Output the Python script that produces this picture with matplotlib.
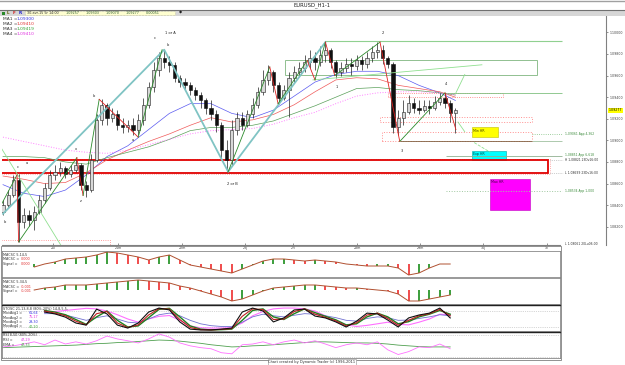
#!/usr/bin/env python3
# EURUSD H1 chart: candles, wave count, targets and four indicator panels

import numpy as np
import matplotlib
matplotlib.use("Agg")
import matplotlib.pyplot as plt
from matplotlib.patches import Rectangle
from matplotlib.ticker import FuncFormatter

# ---- candles (2h bars) ----
first_open = 1.0834
close = [1.0840, 1.0849, 1.0863, 1.0824, 1.0831, 1.0826, 1.0834, 1.0845, 1.0856, 1.0868,
         1.0871, 1.0874, 1.0869, 1.0873, 1.0877, 1.0859, 1.0854, 1.0882, 1.0919, 1.0933,
         1.0921, 1.0924, 1.0914, 1.0912, 1.0914, 1.0910, 1.0919, 1.0933, 1.0949, 1.0965,
         1.0976, 1.0973, 1.0970, 1.0958, 1.0954, 1.0951, 1.0947, 1.0942, 1.0937, 1.0930,
         1.0924, 1.0914, 1.0891, 1.0882, 1.0910, 1.0921, 1.0914, 1.0924, 1.0933, 1.0945,
         1.0956, 1.0963, 1.0951, 1.0939, 1.0947, 1.0958, 1.0963, 1.0967, 1.0973, 1.0976,
         1.0973, 1.0979, 1.0984, 1.0973, 1.0963, 1.0967, 1.0971, 1.0969, 1.0974, 1.0971,
         1.0976, 1.0982, 1.0984, 1.0976, 1.0971, 1.0912, 1.0921, 1.0926, 1.0935, 1.0930,
         1.0928, 1.0932, 1.0930, 1.0936, 1.0939, 1.0935, 1.09257, 1.09277]
high = [1.0845, 1.0854, 1.0868, 1.0869, 1.0837, 1.0836, 1.0839, 1.0849, 1.0861, 1.0873,
        1.0877, 1.0880, 1.0876, 1.0877, 1.0882, 1.0879, 1.0862, 1.0887, 1.0924, 1.0938,
        1.0935, 1.0930, 1.0928, 1.0921, 1.0919, 1.0921, 1.0924, 1.0939, 1.0954, 1.0973,
        1.0982, 1.0984, 1.0978, 1.0973, 1.0961, 1.0958, 1.0954, 1.0949, 1.0945, 1.0939,
        1.0937, 1.0928, 1.0917, 1.0900, 1.0919, 1.0926, 1.0926, 1.0928, 1.0939, 1.0949,
        1.0965, 1.0970, 1.0965, 1.0954, 1.0951, 1.0963, 1.0969, 1.0973, 1.0979, 1.0984,
        1.0982, 1.0987, 1.0991, 1.0986, 1.0974, 1.0973, 1.0976, 1.0976, 1.0979, 1.0978,
        1.0982, 1.0987, 1.0991, 1.0988, 1.0978, 1.0973, 1.0928, 1.0937, 1.0942, 1.0939,
        1.0937, 1.0937, 1.0937, 1.0941, 1.0944, 1.0944, 1.0937, 1.09303]
low = [1.0831, 1.0837, 1.0848, 1.0806, 1.0819, 1.0821, 1.0817, 1.0832, 1.0842, 1.0854,
       1.0863, 1.0867, 1.0865, 1.0866, 1.0871, 1.0854, 1.0848, 1.0852, 1.0880, 1.0914,
       1.0914, 1.0917, 1.0910, 1.0907, 1.0908, 1.0905, 1.0905, 1.0914, 1.0930, 1.0945,
       1.0960, 1.0967, 1.0963, 1.0954, 1.0949, 1.0947, 1.0942, 1.0937, 1.0930, 1.0924,
       1.0919, 1.0908, 1.0882, 1.0871, 1.0877, 1.0905, 1.0910, 1.0912, 1.0921, 1.0930,
       1.0942, 1.0951, 1.0945, 1.0934, 1.0937, 1.0922, 1.0954, 1.0960, 1.0963, 1.0967,
       1.0965, 1.0969, 1.0973, 1.0967, 1.0958, 1.0960, 1.0963, 1.0961, 1.0965, 1.0965,
       1.0967, 1.0973, 1.0976, 1.0971, 1.0967, 1.0907, 1.0905, 1.0914, 1.0924, 1.0925,
       1.0924, 1.0926, 1.0924, 1.0928, 1.0933, 1.0930, 1.0917, 1.09070]

# moving averages, one value every 4 bars
ma_bars = list(range(0, 88, 4)) + [87]
ma1 = [1.0859, 1.0851, 1.0848, 1.0854, 1.0868, 1.0885, 1.0895, 1.0910, 1.0925, 1.0934, 1.0934, 1.0925,
       1.0921, 1.0928, 1.0941, 1.0954, 1.0961, 1.0964, 1.0964, 1.0960, 1.0951, 1.0944, 1.0937]
ma2 = [1.0867, 1.0864, 1.0860, 1.0861, 1.0870, 1.0882, 1.0891, 1.0899, 1.0906, 1.0914, 1.0921, 1.0917,
       1.0919, 1.0924, 1.0933, 1.0945, 1.0956, 1.0958, 1.0957, 1.0951, 1.0948, 1.0945, 1.0940]
ma3 = [1.0885, 1.0885, 1.0884, 1.0880, 1.0878, 1.0884, 1.0889, 1.0894, 1.0901, 1.0909, 1.0912, 1.0912,
       1.0914, 1.0918, 1.0925, 1.0932, 1.0940, 1.0948, 1.0949, 1.0947, 1.0946, 1.0944, 1.0942]
ma4 = [1.0903, 1.0899, 1.0895, 1.0891, 1.0889, 1.0888, 1.0891, 1.0896, 1.0901, 1.0906, 1.0909, 1.0910,
       1.0911, 1.0915, 1.0921, 1.0926, 1.0934, 1.0941, 1.0944, 1.0945, 1.0945, 1.0944, 1.0942]

# indicators, one value every 2 bars (pips for the oscillators)
macd1 = [-4, -4, -3, -3, 0, 2, 5, 6, 7, 9, 12, 11, 9, 7, 4, 7, 9, 4, -1, -3, -5, -7, -9, -5, -1, 3,
         5, 5, 4, 3, 4, 3, 2, 0, -1, -2, -2, -2, -4, -11, -9, -4, 0, 0]
macd2 = [-5, -6, -3, 0, 2, 3, 5, 5, 5, 6, 7, 8, 9, 10, 9, 8, 7, 4, 2, -1, -4, -7, -11, -9, -5, -1,
         2, 3, 4, 5, 5, 4, 3, 2, 2, 1, 0, -1, -4, -11, -11, -9, -7, -5]
# stochastics start at bar 8
stoch_black = [76, 69, 57, 35, 27, 87, 69, 27, 16, 35, 76, 91, 84, 39, 12, 9, 9, 12, 16, 76,
               91, 80, 39, 54, 84, 87, 61, 54, 39, 20, 42, 72, 69, 46, 20, 54, 65, 72, 91, 54]
stoch_red = [80, 72, 62, 42, 28, 70, 78, 35, 18, 28, 65, 89, 87, 48, 18, 10, 9, 11, 14, 60,
             88, 85, 48, 50, 78, 88, 68, 56, 43, 24, 36, 65, 72, 52, 26, 45, 62, 70, 86, 62]
stoch_green = [82, 76, 66, 48, 30, 58, 80, 45, 20, 24, 55, 86, 90, 58, 24, 12, 9, 10, 12, 45,
               82, 88, 58, 48, 70, 88, 74, 60, 47, 28, 32, 58, 72, 58, 32, 40, 58, 68, 82, 68]
stoch_blue = [70, 70, 65, 55, 45, 55, 62, 50, 38, 35, 50, 66, 72, 62, 45, 32, 25, 22, 22, 38,
              58, 68, 62, 58, 64, 70, 68, 62, 55, 45, 42, 52, 58, 55, 45, 46, 52, 58, 66, 62]
stoch_pink = [76, 78, 82, 86, 90, 88, 80, 66, 50, 38, 50, 60, 63, 45, 24, 17, 16, 16, 18, 35,
              62, 78, 88, 91, 91, 88, 80, 62, 42, 28, 22, 26, 32, 38, 30, 28, 38, 50, 68, 66]
rsi = [47, 50, 55, 61, 53, 66, 55, 61, 55, 64, 77, 69, 64, 58, 69, 83, 74, 58, 50, 45, 42, 31,
       28, 53, 55, 61, 53, 61, 66, 58, 64, 55, 45, 53, 58, 53, 61, 39, 26, 34, 47, 45, 55, 42]
rsi_ema = [45, 46, 47, 48, 49, 50, 51, 52, 54, 56, 57, 59, 60, 62, 64, 66, 65, 63, 60, 57, 53, 50,
           47, 48, 50, 51, 53, 55, 57, 59, 61, 61, 60, 59, 58, 58, 57, 55, 52, 50, 48, 47, 47, 47]

# wave count pivots (bar, price)
abc_bars = [0, 31, 43.3, 62]
abc_prices = [1.0832, 1.0984, 1.0871, 1.0991]
sub1_bars = [-0.6, 2.7, 3, 14.2, 15.4, 18.5, 26, 30.6]
sub1_prices = [1.0838, 1.0868, 1.0806, 1.0884, 1.0849, 1.0938, 1.0903, 1.0984]
sub2_bars = [43.3, 51.3, 52.9, 58.5, 60, 62, 63.8, 72.5, 76.3, 85, 87.1]
sub2_prices = [1.0871, 1.0968, 1.0934, 1.0974, 1.0956, 1.0991, 1.0960, 1.0991, 1.0899, 1.0944, 1.0910]

support_zone = (1.08699, 1.08821)
target_prices = [1.09061, 1.08851, 1.08534]
target_labels = ["1,09061 App 4,362", "1,08851 App 6,618", "1,08534 App 1,000"]
price_ticks = [1.082, 1.084, 1.086, 1.088, 1.090, 1.092, 1.094, 1.096, 1.098, 1.100]
day_labels = ["20l", "21m", "22m", "23j", "27l", "28m", "29m", "30j", "1v"]
day_px = [53, 118, 182, 245, 293, 357, 420, 483, 547]

W, H = 625, 365


def bx(px):
    # pixel column -> bar index
    return (px - 3) / 5.2


def rect(x0, y0, x1, y1):
    return [x0 / W, 1 - y1 / H, (x1 - x0) / W, (y1 - y0) / H]


def comma(v, _=None):
    return f"{v:.5f}".replace(".", ",")


fig = plt.figure(figsize=(W / 100, H / 100), dpi=100)
fig.patch.set_facecolor("white")

# ---- main price chart ----
ax = fig.add_axes(rect(2, 16, 606, 245))
ax.set_xlim(bx(2), bx(606))
ax.set_ylim(1.080313, 1.101518)
for s in ["top", "left"]:
    ax.spines[s].set_visible(False)
ax.spines["right"].set_color("#808080")
ax.spines["bottom"].set_color("#808080")
ax.spines["bottom"].set_bounds(bx(2), bx(560))
ax.yaxis.tick_right()
ax.set_yticks(price_ticks)
ax.yaxis.set_major_formatter(FuncFormatter(comma))
ax.tick_params(axis="y", labelsize=2.3, length=1.5, width=0.4, pad=0.8, colors="#404040")
ax.set_xticks([bx(p) for p in day_px])
ax.set_xticklabels(day_labels)
ax.tick_params(axis="x", direction="in", labelsize=2.3, length=1.5, width=0.4, pad=0.6, colors="#404040")

# zones and boxes
lo, hi = support_zone
ax.add_patch(Rectangle((bx(-1), lo - 0.0001), bx(550) - bx(-1), hi - lo + 0.0002,
                       fill=False, ec="#ff9090", lw=0.6, ls=":", zorder=2))
ax.add_patch(Rectangle((bx(-1), lo), bx(548) - bx(-1), hi - lo, fill=False, ec="#e00000", lw=1.3, zorder=2))
ax.hlines([lo, hi], bx(550), bx(563), colors="#a0a0a0", lw=0.5, ls=":")
ax.plot([bx(-1), bx(110), bx(110)], [1.0808, 1.0808, 1.0800], color="#ff8080", lw=0.6, ls=":")
ax.add_patch(Rectangle((bx(285), 1.0961), bx(537) - bx(285), 0.0013, fill=False, ec="#90c090", lw=0.7))
ax.hlines(1.0992, bx(325), bx(562), colors="#90d090", lw=0.8)
ax.hlines(1.0944, bx(445), bx(562), colors="#80c080", lw=0.6)
ax.add_patch(Rectangle((bx(388), 1.0940), bx(503) - bx(388), 0.0004, fill=False, ec="#ff7070", lw=0.6, ls=":"))
ax.add_patch(Rectangle((bx(380), 1.0917), bx(532) - bx(380), 0.0005, fill=False, ec="#ff9090", lw=0.7, ls=":"))
ax.add_patch(Rectangle((bx(382), 1.0899), bx(532) - bx(382), 0.0009, fill=False, ec="#ff9090", lw=0.7, ls=":"))
ax.hlines(1.0899, bx(400), bx(532), colors="#806040", lw=0.6)
ax.hlines(1.0899, bx(532), bx(562), colors="#a0c0a0", lw=0.6)
ax.hlines(target_prices[0], bx(532), bx(562), colors="#80c080", lw=0.6, ls=":")
ax.hlines(target_prices[1], bx(446), bx(562), colors="#90b090", lw=0.6)
ax.hlines(target_prices[2], bx(446), bx(562), colors="#a0c8a0", lw=0.7, ls=":", zorder=6)
ax.add_patch(Rectangle((bx(472), 1.0903), bx(498) - bx(472), 0.0009, fc="#ffff00", ec="#c0c000", lw=0.4))
ax.add_patch(Rectangle((bx(472), 1.0882), bx(506) - bx(472), 0.0008, fc="#00ffff", ec="#00a0a0", lw=0.4))
ax.add_patch(Rectangle((bx(490), 1.0836), bx(530) - bx(490), 0.0028, fc="#ff00ff", ec="#c000c0", lw=0.4))
ax.text(bx(473), 1.0911, "Min HR", fontsize=2.3, va="top", color="#404000")
ax.text(bx(473), 1.0889, "Exp HR", fontsize=2.3, va="top", color="#004040")
ax.text(bx(491), 1.0863, "Max HR", fontsize=2.3, va="top", color="#400040")

# moving averages
ax.plot(ma_bars, ma1, color="#5a5af0", lw=0.5, zorder=3)
ax.plot(ma_bars, ma2, color="#f05a5a", lw=0.5, zorder=3)
ax.plot(ma_bars, ma3, color="#5aa05a", lw=0.5, zorder=3)
ax.plot(ma_bars, ma4, color="#ff80ff", lw=0.7, ls=":", zorder=3)

# candles
c = np.array(close)
o = np.array([first_open] + close[:-1])
h = np.maximum(np.array(high), np.maximum(o, c))
l = np.minimum(np.array(low), np.minimum(o, c))
bars = np.arange(len(c))
up = c >= o
ax.vlines(bars, l, h, color="#202020", lw=0.5, zorder=4)
ax.bar(bars[up], (c - o)[up], bottom=o[up], width=0.6, color="#d8d8d8", edgecolor="#202020", lw=0.4, zorder=5)
ax.bar(bars[~up], (c - o)[~up], bottom=o[~up], width=0.6, color="#101010", edgecolor="#101010", lw=0.4, zorder=5)

# wave lines
ax.plot(abc_bars, abc_prices, color="#80c4c4", lw=1.3, zorder=6)
for wb, wp in [(sub1_bars, sub1_prices), (sub2_bars, sub2_prices)]:
    for i in range(len(wb) - 1):
        col = "#2a8a2a" if wp[i + 1] > wp[i] else "#e02020"
        ax.plot(wb[i:i + 2], wp[i:i + 2], color=col, lw=0.6, zorder=7)
ax.plot([-0.6, 11.5], [1.0895, 1.0800], color="#90e090", lw=0.6, zorder=6)
ax.plot([59.6, 92.1], [1.0956, 1.0970], color="#90e090", lw=0.6, zorder=6)
ax.plot([87.1, 88.8], [1.0944, 1.0961], color="#90e090", lw=0.6, zorder=7)
ax.plot([87.5, 88.8], [1.0917, 1.0908], color="#90e090", lw=0.6, zorder=7)
ax.plot([90.6, 93.7], [1.0898, 1.0889], color="#90e090", lw=0.6, ls="--", zorder=7)

# right-hand labels
tr = ax.get_yaxis_transform()
xl = (565 - 2) / 604
offs = [0, 0.00012, 0]
for p, t, d in zip(target_prices, target_labels, offs):
    ax.text(xl, p + d, t, transform=tr, fontsize=2.2, color="#3a8a3a", va="center", clip_on=False)
ax.text(xl, hi - 0.00004, "H 1,08821 23Dv16:00", transform=tr, fontsize=2.2, color="#303030", va="center")
ax.text(xl, lo, "L 1,08699 23Dv16:00", transform=tr, fontsize=2.2, color="#303030", va="center")
ax.text(xl, 1.0804, "L 1,08061 20Lu06:00", transform=tr, fontsize=2.2, color="#303030", va="center")
ax.text(1.004, close[-1], comma(close[-1]), transform=tr, fontsize=2.3, va="center",
        bbox=dict(boxstyle="square,pad=0.15", fc="#ffff00", ec="none"))

# ---- indicator panels ----
ind_bars = np.arange(len(macd1)) * 2
panels = [(251, 277, (-13, 13)), (278, 304, (-14, 12)), (305, 331, (5, 102.5)), (332, 358, (16.4, 88.2))]
pax = []
for i, (y0, y1, yl) in enumerate(panels):
    a = fig.add_axes(rect(2, y0, 560, y1))
    a.set_xlim(bx(2), bx(560))
    a.set_ylim(*yl)
    a.set_xticks([])
    a.set_yticks([])
    for s in a.spines.values():
        s.set_color("#707070")
        s.set_linewidth(0.5)
    if i >= 2:
        a.spines["top"].set_color("#202020")
        a.spines["top"].set_linewidth(1.0)
    pax.append(a)

for a, vals in [(pax[0], macd1), (pax[1], macd2)]:
    v = np.array(vals)
    xs = ind_bars[3:]
    vv = v[3:]
    rising = vv >= v[2:-1]
    a.bar(xs[rising], vv[rising], width=0.35, color="#40a040", lw=0)
    a.bar(xs[~rising], vv[~rising], width=0.35, color="#f05050", lw=0)
    a.plot(xs, vv, color="#b05030", lw=0.7)

a = pax[2]
a.axhline(80, color="#b0b0b0", lw=0.5, ls=":")
a.axhline(20, color="#b0b0b0", lw=0.5, ls=":")
sb = ind_bars[4:]
a.plot(sb, stoch_pink, color="#ff70ff", lw=0.8)
a.plot(sb, stoch_blue, color="#7070d0", lw=0.6)
a.plot(sb, stoch_green, color="#208020", lw=1.0)
a.plot(sb, stoch_red, color="#c02020", lw=0.8)
a.plot(sb, stoch_black, color="#101010", lw=0.8)

a = pax[3]
a.axhline(80, color="#b0b0b0", lw=0.5, ls=":")
a.axhline(20, color="#b0b0b0", lw=0.5, ls=":")
a.plot(ind_bars, rsi_ema, color="#50a050", lw=0.6)
a.plot(ind_bars, rsi, color="#ff70ff", lw=0.6)

# ---- frame, title bar, toolbar and texts (pixel overlay) ----
ov = fig.add_axes([0, 0, 1, 1], zorder=10)
ov.set_xlim(0, W)
ov.set_ylim(H, 0)
ov.axis("off")
ov.patch.set_alpha(0)
ov.plot([0, W], [0.5, 0.5], color="#a0a0a0", lw=1)
ov.text(312, 5, "EURUSD_H1-1", ha="center", va="center", fontsize=3.8, color="#202020")
ov.add_patch(Rectangle((0, 9.5), W, 6.5, fc="#d6d6d6", ec="none"))
ov.plot([0, W], [9.5, 9.5], color="#707070", lw=0.8)
ov.add_patch(Rectangle((2, 11.5), 3, 3, fc="#2a8a2a", ec="none"))
ov.text(7, 13, "L", fontsize=3, color="#606000", va="center", weight="bold")
ov.text(13, 13, "F", fontsize=3, color="#d02020", va="center", weight="bold")
ov.text(19, 13, "R", fontsize=3, color="#2020d0", va="center", weight="bold")
ov.add_patch(Rectangle((25, 10.8), 150, 4.6, fc="#ffffd0", ec="#b0b090", lw=0.4, ls=":"))
ov.text(27, 13.1, "30-avr-15 5r 14:00", fontsize=2.4, va="center", color="#303030")
for xx, t in zip([66, 86, 106, 126, 146], ["1,09257", "1,09303", "1,09070", "1,09277", "0,00051"]):
    ov.text(xx, 13.1, t, fontsize=2.4, va="center", color="#306030")
ov.text(181, 13, "\u25c6", fontsize=3, va="center", ha="center", color="#202020")

ma_names = ["MA1 =", "MA2 =", "MA3 =", "MA4 ="]
ma_vals = ["1,09300", "1,09410", "1,09419", "1,09410"]
ma_cols = ["#3030e0", "#e03030", "#30a030", "#e030e0"]
for j in range(4):
    yy = 18.5 + 5.3 * j
    ov.text(3, yy, ma_names[j], fontsize=3.2, va="center", color="#303030")
    ov.text(17, yy, ma_vals[j], fontsize=3.2, va="center", color=ma_cols[j])

wave_text = [("1 or A", 170, 33), ("c", 155, 38), ("b", 168, 45), ("2", 383, 33), ("1", 337, 87),
             ("4", 446, 84), ("3", 402, 151), ("2 or B", 232, 184), ("b", 94, 96), ("a", 133, 140),
             ("c", 18, 167), ("a", 27, 163), ("b", 5, 222), ("x", 76, 149), ("z", 81, 201)]
for t, xx, yy in wave_text:
    ov.text(xx, yy, t, fontsize=2.6, ha="center", va="center", color="#202020")

# panel captions
cap = [
    (3, 255, "MACSC 5,14,5", None, None),
    (3, 259.5, "MACSC =", "0,000", "#e03030"),
    (3, 264, "Signal =", "0,000", "#e03030"),
    (3, 282, "MACSC 5,34,5", None, None),
    (3, 286.5, "MACSC =", "-0,001", "#e03030"),
    (3, 291, "Signal =", "-0,001", "#e03030"),
    (3, 308.5, "STOSC 21,13,8,8 (80%-20%) 14,8,5,5,", None, None),
    (3, 313, "MovAvg1 =", "61,64", "#3030e0"),
    (3, 317.5, "MovAvg2 =", "75,17", "#e030e0"),
    (3, 322, "MovAvg3 =", "29,30", "#3030e0"),
    (3, 326.5, "MovAvg4 =", "40,20", "#30a030"),
    (3, 335.5, "RSI 8,50 (80%-20%)", None, None),
    (3, 340, "RSI =", "47,29", "#e030e0"),
    (3, 344.5, "EMA =", "47,33", "#30a030"),
]
for xx, yy, t, v, col in cap:
    ov.text(xx, yy, t, fontsize=2.4, va="center", color="#303030")
    if v is not None:
        ov.text(xx + (26 if t.startswith("Mov") else 18), yy, v, fontsize=2.4, va="center", color=col)

ov.add_patch(Rectangle((1, 245.5), 560, 114, fill=False, ec="#808080", lw=0.6))
ov.text(312, 362, "Chart created by Dynamic Trader (c) 1996-2011", fontsize=2.6, ha="center", va="center",
        color="#303030", bbox=dict(boxstyle="square,pad=0.2", fc="white", ec="#909090", lw=0.4))

fig.savefig("out.png", dpi=100)
